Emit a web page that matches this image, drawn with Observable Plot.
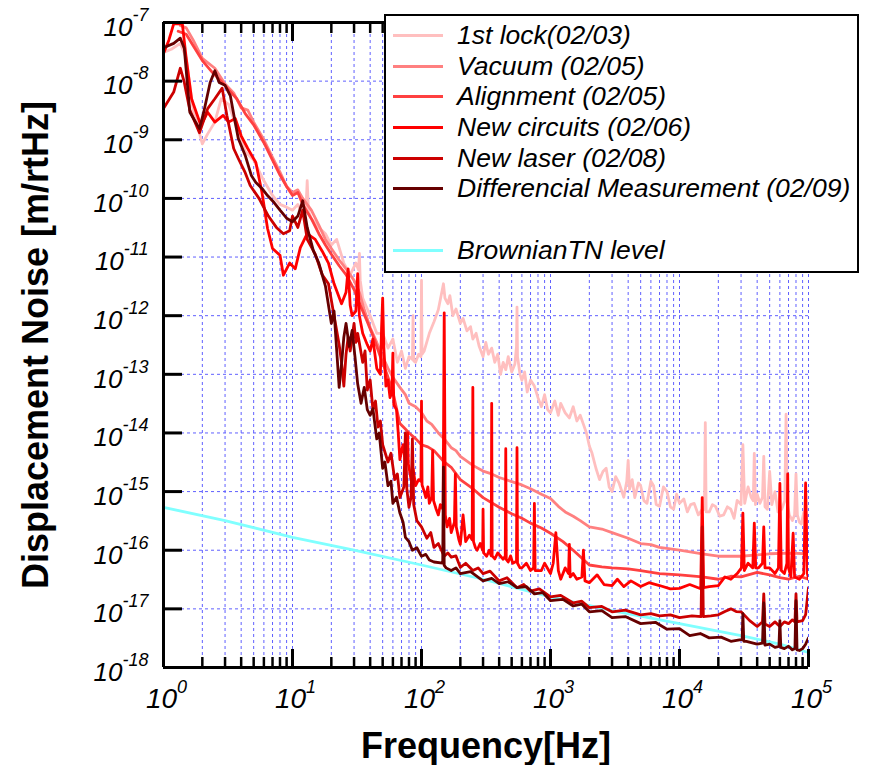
<!DOCTYPE html>
<html>
<head>
<meta charset="utf-8">
<script src="https://cdn.jsdelivr.net/npm/d3@7"></script>
<script src="https://cdn.jsdelivr.net/npm/@observablehq/plot@0.6"></script>
<style>
  html, body { margin: 0; padding: 0; background: #fff; }
  #wrap { position: relative; width: 870px; height: 765px; font-family: "Liberation Sans", Arial, sans-serif; }
  #wrap svg { position: absolute; left: 0; top: 0; }
  #legend { position: absolute; left: 384px; top: 14px; width: 475px; height: 259px; box-sizing: border-box;
            border: 2.5px solid #000; background: #fff; padding-top: 4px; }
  #legend .row { height: 30.7px; display: flex; align-items: center; }
  #legend .sw { display: inline-block; width: 50px; height: 3px; margin-left: 7px; }
  #legend .lab { margin-left: 14px; font-size: 26.5px; font-style: italic; color: #000; white-space: nowrap; }
</style>
</head>
<body>
<div id="wrap"></div>
<script>
// ---- Tick values ----
const xMajor = [1, 10, 100, 1e3, 1e4, 1e5];
const xMinor = [2,3,4,5,6,7,8,9, 20,30,40,50,60,70,80,90, 200,300,400,500,600,700,800,900,
                2e3,3e3,4e3,5e3,6e3,7e3,8e3,9e3, 2e4,3e4,4e4,5e4,6e4,7e4,8e4,9e4];
const yMajor = [1e-18,1e-17,1e-16,1e-15,1e-14,1e-13,1e-12,1e-11,1e-10,1e-9,1e-8,1e-7];

// ---- Series names / colours ----
const seriesNames = ["1st lock(02/03)", "Vacuum (02/05)", "Alignment (02/05)", "New circuits (02/06)",
                     "New laser (02/08)", "Differencial Measurement (02/09)", "", "BrownianTN level"];
const seriesColors = ["#ffbfbf", "#ff8080", "#ff4040", "#ff0000", "#cc0000", "#660000", null, "#80ffff"];

// ---- Data: [frequency Hz, displacement noise m/rtHz] ----
const lock1st = [[1,3.1e-8],[1.15,3.5e-8],[1.35,4.4e-8],[1.5,2.5e-8],[1.7,3.2e-9],[2.0,8.5e-10],[2.2,1.26e-9],[2.5,2.0e-9],[2.8,5.0e-9],[3.2,4.0e-9],[3.7,1.6e-9],[4.3,6.3e-10],[5,4.5e-10],[6,2.0e-10],[7,1.12e-10],[8,7.9e-11],[9,7.1e-11],[10,6.3e-11],[11,7.9e-11],[12,5.0e-11],[12.7,6e-11],[13,2.0e-10],[13.3,6e-11],[14,4.5e-11],[16,3.2e-11],[18,2.5e-11],[20,1.6e-11],[22,2.0e-11],[25,7.9e-12],[28,5.0e-12],[31,7.9e-12],[32.5,6e-12],[33,1.15e-11],[33.5,4e-12],[35,2.0e-12],[40,1.0e-12],[45,5.0e-13],[50,5.0e-13],[55,2.8e-13],[60,4.0e-13],[65,1.6e-13],[70,2.5e-13],[75,1.26e-13],[80,2.0e-13],[85,1.8e-13],[86,1.0e-12],[87,1.7e-13],[90,1.6e-13],[95,2.2e-13],[99,2e-13],[100,4.0e-12],[101,2.2e-13],[105,2.5e-13],[115,5.0e-13],[125,7.9e-13],[135,1.26e-12],[148,3.5e-12],[152,2.0e-12],[160,1.6e-12],[166,2.2e-12],[175,1.0e-12],[185,1.3e-12],[200,7.4e-13],[210,9e-13],[225,5.5e-13],[240,6.5e-13],[250,4.0e-13],[265,5e-13],[280,3e-13],[300,2.0e-13],[315,3.5e-13],[330,2.2e-13],[350,2.8e-13],[370,1.6e-13],[390,2.2e-13],[410,1.0e-13],[430,1.6e-13],[450,1.2e-13],[470,2.0e-13],[500,1.1e-13],[530,1.5e-13],[545,3e-13],[550,1.4e-12],[555,2e-13],[580,1.0e-13],[600,7.9e-14],[630,1.1e-13],[660,5.0e-14],[700,8e-14],[750,6.3e-14],[800,4e-14],[850,2.8e-14],[900,4.5e-14],[950,2.5e-14],[1000,2.2e-14],[1080,3.5e-14],[1150,2e-14],[1200,3.2e-14],[1300,2.2e-14],[1400,1.8e-14],[1500,2.8e-14],[1600,1.6e-14],[1700,2.0e-14],[1800,1.4e-14],[1900,1.0e-14],[2000,6e-15],[2100,4.5e-15],[2250,2.5e-15],[2400,1.6e-15],[2550,2.2e-15],[2700,2.5e-15],[2850,1.2e-15],[3000,1.0e-15],[3200,1.8e-15],[3400,1.4e-15],[3700,8e-16],[3900,1.5e-15],[4000,3.4e-15],[4100,1.1e-15],[4300,1.6e-15],[4500,7.9e-16],[4800,1.4e-15],[5000,1.26e-15],[5300,7e-16],[5600,6.3e-16],[6000,1.5e-15],[6300,1.26e-15],[6600,6e-16],[7000,5.6e-16],[7500,1.2e-15],[8000,1.0e-15],[8500,5.5e-16],[9000,5.0e-16],[9500,9e-16],[10000,6.3e-16],[10800,7.5e-16],[11500,4.5e-16],[12200,6e-16],[13000,6.3e-16],[14000,4e-16],[15000,5.0e-16],[15600,5e-16],[15850,1.5e-14],[16100,4.5e-16],[17000,4.5e-16],[18000,6e-16],[19000,5.6e-16],[20500,3.8e-16],[22000,4.0e-16],[23500,5.5e-16],[25000,5.0e-16],[26500,3.5e-16],[28000,7.1e-16],[30000,6e-16],[31000,6.3e-15],[32000,6.3e-16],[34000,1.2e-15],[36000,7.9e-16],[37300,7e-16],[38000,4.5e-15],[38800,6e-16],[40000,9e-16],[42000,6.3e-16],[44000,8e-16],[45000,4.0e-15],[46000,5.5e-16],[48000,5.0e-16],[50000,2.2e-15],[52000,6e-16],[55000,1.0e-15],[58000,4.5e-16],[62000,5.0e-16],[65500,7e-16],[67000,2.1e-14],[68500,6.3e-16],[71000,4e-16],[75000,3.2e-16],[78000,4e-16],[80000,2.0e-15],[82000,4e-16],[85000,3e-16],[88000,2.8e-16],[92000,4.5e-16],[96000,3e-16],[100000,4.0e-16]];

const vacuum = [[1.35,8.9e-8],[1.5,8.1e-8],[1.7,5.0e-8],[2.0,2.45e-8],[2.5,1.66e-8],[3.0,8.9e-9],[3.5,6.3e-9],[4,3.5e-9],[4.5,3.2e-9],[5,2.0e-9],[6,1.0e-9],[7,5.0e-10],[8,2.8e-10],[9,1.6e-10],[10,1.26e-10],[11,1.4e-10],[12,1.0e-10],[14,6.3e-11],[16,3.5e-11],[18,2.0e-11],[20,1.4e-11],[23,8.9e-12],[26,6.3e-12],[30,4.0e-12],[33,2.5e-12],[36,1.26e-12],[40,6.3e-13],[45,3.5e-13],[50,2.0e-13],[55,1.26e-13],[60,8.9e-14],[68,6.0e-14],[75,4.5e-14],[80,3.2e-14],[90,2.8e-14],[100,2.24e-14],[110,1.6e-14],[120,1.4e-14],[135,1.0e-14],[150,7.9e-15],[170,5.6e-15],[185,5.0e-15],[200,4.0e-15],[250,2.8e-15],[300,2.24e-15],[350,2.0e-15],[400,1.74e-15],[500,1.48e-15],[600,1.3e-15],[700,1.12e-15],[850,9e-16],[1000,7.6e-16],[1150,5.6e-16],[1300,4.5e-16],[1500,3.8e-16],[1700,3.2e-16],[2000,2.5e-16],[2500,2.3e-16],[3000,2.0e-16],[4000,1.6e-16],[5000,1.3e-16],[6000,1.25e-16],[7000,1.12e-16],[8500,1.05e-16],[10000,1.0e-16],[15000,8.7e-17],[20000,7.9e-17],[30000,7.9e-17],[40000,8.3e-17],[50000,8.7e-17],[70000,8.9e-17],[100000,8.7e-17]];

const alignment = [[1.3,7.1e-8],[1.5,6.3e-8],[1.7,4.0e-8],[2.0,2.24e-8],[2.4,1.4e-8],[2.8,1.0e-8],[3.2,7.1e-9],[3.7,5.0e-9],[4.3,2.8e-9],[5,1.8e-9],[6,8.9e-10],[7,4.5e-10],[8,2.5e-10],[9,1.6e-10],[10,1.12e-10],[11,1.26e-10],[12,7.9e-11],[14,4.5e-11],[16,2.5e-11],[18,1.6e-11],[20,1.12e-11],[23,7.1e-12],[26,5.0e-12],[30,2.8e-12],[34,1.4e-12],[38,7.9e-13],[43,4.0e-13],[48,2.0e-13],[54,1.0e-13],[60,5.0e-14],[68,1.45e-14],[74,1.2e-14],[80,1.0e-14],[90,8e-15],[100,6.3e-15],[112,5.8e-15],[125,5.0e-15],[150,3.2e-15],[170,2.6e-15],[200,1.6e-15],[250,1.12e-15],[300,7.9e-16],[400,5.4e-16],[500,4.2e-16],[600,3.5e-16],[700,2.9e-16],[850,2.4e-16],[1000,1.95e-16],[1250,1.4e-16],[1500,1.0e-16],[2000,5.6e-17],[2500,5.2e-17],[3000,5.0e-17],[4000,4.8e-17],[5000,4.5e-17],[7000,4.0e-17],[10000,3.8e-17],[15000,3.5e-17],[20000,3.2e-17],[25000,3.6e-17],[30000,3.5e-17],[40000,4.2e-17],[50000,3.8e-17],[60000,3.4e-17],[70000,3.2e-17],[85000,3.6e-17],[100000,3.2e-17]];

const newCircuits = [[1,2.95e-8],[1.1,5.0e-8],[1.2,9.5e-8],[1.4,9.5e-8],[1.5,2.45e-8],[1.65,5.0e-9],[1.95,1.74e-9],[2.2,2.95e-9],[2.5,2.0e-9],[2.9,2.6e-9],[3.2,2.0e-9],[3.6,2.3e-9],[4.0,1.17e-9],[4.5,7.1e-10],[5.2,4.1e-10],[5.8,1.26e-10],[6.4,3.1e-11],[7.0,1.4e-11],[8.0,1.07e-11],[8.5,4.9e-12],[9.5,7.9e-12],[10.5,6.3e-12],[11.5,1.45e-11],[13,2.5e-11],[15,2.0e-11],[17,1.26e-11],[19,7.9e-12],[21,3.5e-12],[24,1.6e-12],[26,2.5e-12],[27,6.3e-12],[28,1.5e-12],[29,1.0e-12],[31,1.2e-12],[32,5.2e-12],[33,1.0e-12],[35,5.0e-13],[38,3.2e-13],[40,2.5e-13],[42,4e-13],[45,1.26e-13],[48,1.0e-13],[49,6e-13],[50,2.0e-12],[51,3e-13],[53,6.3e-14],[55,8e-14],[57,4.0e-14],[59,5e-14],[60,2.3e-13],[61,3e-14],[64,2.5e-14],[66,1e-14],[68,3.5e-15],[70,5e-15],[72,6.3e-15],[75,3e-15],[77,4e-15],[78,1.0e-14],[79,3e-15],[83,1.6e-15],[86,2.5e-15],[90,1.26e-15],[95,1.6e-15],[99,1.5e-15],[100,3.5e-14],[101,1.3e-15],[105,1.0e-15],[108,7.9e-16],[112,1.2e-15],[115,6.3e-16],[120,8e-16],[122,5.0e-15],[124,7e-16],[130,5e-16],[135,4.0e-16],[140,6e-16],[147,5e-16],[150,1.12e-12],[153,4e-16],[158,2.5e-16],[165,3.5e-16],[170,2.0e-16],[180,3e-16],[183,2.0e-15],[186,2.5e-16],[195,1.5e-16],[200,1.26e-16],[210,4e-16],[220,1.4e-16],[235,1.8e-16],[247,1.5e-16],[250,6.0e-14],[253,1.4e-16],[262,1.1e-16],[270,1.0e-16],[285,1.3e-16],[298,1e-16],[300,5.0e-16],[303,9e-17],[320,7.9e-17],[335,1e-16],[347,8e-17],[350,3.2e-14],[353,8e-17],[370,7.1e-17],[390,9e-17],[410,7.9e-17],[430,7e-17],[446,8e-17],[450,5.4e-15],[454,7e-17],[470,6.3e-17],[490,8e-17],[510,6e-17],[545,6.5e-17],[550,5.6e-15],[555,6e-17],[580,5e-17],[600,5.0e-17],[650,6e-17],[700,4.5e-17],[740,5e-17],[750,6.3e-16],[760,4.5e-17],[850,4.5e-17],[900,6e-17],[1000,4.0e-17],[1050,6e-17],[1100,2.0e-16],[1150,4.5e-17],[1200,3.2e-17],[1300,5e-17],[1380,4e-17],[1400,1.26e-16],[1420,3.5e-17],[1500,4e-17],[1600,3.2e-17],[1750,3.5e-17],[1800,1.0e-16],[1850,3e-17],[2000,2.8e-17],[2300,3.8e-17],[2600,2.6e-17],[3000,2.5e-17],[3300,3.2e-17],[3700,2.4e-17],[4200,3e-17],[5000,2.4e-17],[5800,2.8e-17],[7000,2.5e-17],[8500,2.2e-17],[10000,2.24e-17],[12000,2.6e-17],[14600,2.2e-17],[15000,7.9e-16],[15400,2.3e-17],[17000,2.4e-17],[20000,2.5e-17],[22500,3.5e-17],[25000,3.2e-17],[28000,4e-17],[30200,5e-17],[31000,4.3e-16],[31800,4.5e-17],[34000,6e-17],[37000,5e-17],[38000,2.9e-16],[39000,5e-17],[41000,5.0e-17],[44000,6e-17],[45000,2.5e-16],[46000,5e-17],[50000,5.0e-17],[55000,4e-17],[58500,5e-17],[60000,1.38e-15],[61500,4.5e-17],[65000,4.0e-17],[68000,6e-17],[69000,2.0e-15],[70000,5e-17],[73000,3.5e-17],[76000,1.95e-16],[78000,3.5e-17],[85000,3.2e-17],[92000,4e-17],[95000,1.4e-15],[98000,4e-17],[100000,3.2e-17]];

const newLaser = [[1,3.4e-9],[1.2,6.5e-9],[1.35,1.66e-8],[1.45,9.5e-9],[1.6,3.2e-9],[1.9,1.32e-9],[2.2,3.4e-9],[2.5,5.0e-9],[2.85,7.6e-9],[3.1,2.6e-9],[3.5,7.1e-10],[3.8,4.8e-10],[4.3,2.75e-10],[4.7,1.66e-10],[5.5,1.0e-10],[6.5,5.0e-11],[7.5,3.2e-11],[8.5,2.5e-11],[9.5,2.8e-11],[10,5.0e-11],[11,3.2e-11],[12,6.3e-11],[13,2.0e-11],[15,1.12e-11],[17,5.0e-12],[19,3.5e-12],[21,1.0e-12],[23,3.2e-13],[24,1.6e-13],[25,6.3e-14],[26,2.2e-13],[27,4.3e-13],[28,2.5e-13],[30,7.4e-13],[31,3.5e-13],[32,5.0e-13],[35,1.6e-13],[36.5,2.5e-13],[38,5.4e-14],[40,8e-14],[42,2.5e-14],[44,3.5e-14],[46,1.26e-14],[48,1.6e-14],[50,6.3e-15],[55,3.2e-15],[58,4.5e-15],[62,1.6e-15],[65,2e-15],[68,7.9e-16],[73,1.2e-15],[75,1.0e-14],[77,1.1e-15],[80,5.4e-16],[83,8e-16],[85,7.9e-15],[87,6e-16],[92,3.2e-16],[100,2.5e-16],[110,1.6e-16],[118,2e-16],[125,1.12e-16],[135,1.3e-16],[150,7.9e-17],[160,9e-17],[170,7.6e-17],[185,8e-17],[200,5.1e-17],[220,6e-17],[250,4.5e-17],[275,5e-17],[300,4.0e-17],[340,4.4e-17],[400,3.0e-17],[460,3.4e-17],[550,2.3e-17],[620,2.6e-17],[700,2.0e-17],[820,2.2e-17],[1000,1.6e-17],[1200,1.7e-17],[1500,1.26e-17],[1750,1.35e-17],[2000,1.05e-17],[2500,1.1e-17],[3000,8.9e-18],[3800,9.5e-18],[5000,7.9e-18],[6000,8.3e-18],[7000,7.6e-18],[8500,7.9e-18],[10000,7.1e-18],[12500,7.6e-18],[14700,7.4e-18],[15000,2.5e-16],[15300,7.4e-18],[17500,7.6e-18],[20000,7.9e-18],[22500,9e-18],[25000,1.0e-17],[27500,9e-18],[30000,8.9e-18],[35000,6.3e-18],[40000,5.0e-18],[44000,6e-18],[45000,1.8e-17],[46000,5.5e-18],[50000,5.0e-18],[55000,6e-18],[60000,5.0e-18],[65000,6e-18],[70000,5.6e-18],[75000,6.5e-18],[78500,6e-18],[80000,1.8e-17],[81500,6e-18],[90000,6.3e-18],[95000,8e-18],[100000,2.3e-17]];

const differential = [[1,3.7e-8],[1.2,4.4e-8],[1.35,5.4e-8],[1.45,3.6e-8],[1.6,2.95e-9],[1.9,1.55e-9],[2.05,2.95e-9],[2.3,9.5e-9],[2.5,1.5e-8],[2.7,9.5e-9],[3.0,8.5e-9],[3.3,5.6e-9],[3.6,1.95e-9],[3.8,1.05e-9],[4.3,5.4e-10],[4.8,2.45e-10],[5.2,1.86e-10],[5.8,1.48e-10],[6.4,1.12e-10],[7.2,8.5e-11],[8,6.3e-11],[9,4.6e-11],[10,4.0e-11],[11,5.0e-11],[12,9.1e-11],[13,3.2e-11],[14.5,1.29e-11],[16,7.9e-12],[18,3.2e-12],[20,7.4e-13],[21,1.2e-12],[22,2.6e-13],[23,6.0e-14],[24,1.5e-13],[25,4.3e-13],[26,7.4e-13],[27.5,3e-13],[29,5.6e-13],[30.5,2e-13],[32,6.9e-14],[34,3.2e-14],[36,6.0e-14],[38,2.5e-14],[40,2.0e-14],[42,2.6e-14],[45,7.9e-15],[47,1.0e-14],[50,2.5e-15],[52,3.2e-15],[55,1.26e-15],[58,1.5e-15],[60,6.3e-16],[64,8e-16],[68,4.3e-16],[72,3e-16],[75,1.66e-16],[80,1.4e-16],[85,1.0e-16],[92,1.1e-16],[100,7.9e-17],[108,8.5e-17],[115,6.8e-17],[125,6.3e-17],[146,6e-17],[148,2.6e-15],[150,5.5e-17],[155,5e-17],[170,4.5e-17],[185,5e-17],[200,4.0e-17],[240,4.3e-17],[300,3.0e-17],[350,3.3e-17],[400,2.7e-17],[470,2.9e-17],[550,2.3e-17],[650,2.4e-17],[750,1.8e-17],[870,1.9e-17],[1000,1.38e-17],[1250,1.45e-17],[1500,1.12e-17],[1750,1.2e-17],[2000,8.9e-18],[2500,9.3e-18],[3000,7.1e-18],[3800,7.4e-18],[5000,5.6e-18],[6500,5.9e-18],[8000,4.5e-18],[10000,4.6e-18],[12000,3.5e-18],[14500,3.8e-18],[17000,3.2e-18],[21000,3.3e-18],[25000,2.8e-18],[30000,3.0e-18],[30600,3e-18],[31000,8.3e-18],[31500,2.8e-18],[33000,2.8e-18],[40000,2.5e-18],[44000,2.6e-18],[45000,1.26e-17],[46000,2.4e-18],[50000,2.5e-18],[55000,2.2e-18],[59000,2.3e-18],[60000,6.3e-18],[61000,2.2e-18],[65000,2.1e-18],[70000,2.3e-18],[75000,2.0e-18],[78500,2.1e-18],[80000,1.38e-17],[81500,2.0e-18],[85000,1.95e-18],[90000,2.1e-18],[95000,2.5e-18],[100000,3.2e-18]];

const brownian = [[1,5.4e-16],[3,3.2e-16],[10,1.66e-16],[30,1.0e-16],[100,5.6e-17],[300,3.2e-17],[1000,1.6e-17],[3000,9.3e-18],[10000,5.6e-18],[30000,3.5e-18],[60000,2.5e-18],[100000,1.8e-18]];

const seriesData = [lock1st, vacuum, alignment, newCircuits, newLaser, differential, null, brownian];

// ---- Chart ----
const fx = d => d[0], fy = d => d[1];
const gridStyle = {stroke: "#6060ff", strokeWidth: 1, strokeDasharray: "3,3"};
const expFmt = d => "10^" + Math.round(Math.log10(d));

const lineMarks = [];
lineMarks.push(Plot.line(brownian, {x: fx, y: fy, stroke: seriesColors[7], strokeWidth: 2.8, clip: true}));
for (let i = 0; i < 6; i++) {
  lineMarks.push(Plot.line(seriesData[i], {x: fx, y: fy, stroke: seriesColors[i], strokeWidth: 2.8, clip: true, strokeLinejoin: "round"}));
}

const chart = Plot.plot({
  width: 870,
  height: 765,
  marginLeft: 163,
  marginRight: 62,
  marginTop: 22,
  marginBottom: 98,
  style: {fontFamily: "'Liberation Sans', Arial, sans-serif", background: "white", color: "black", overflow: "visible"},
  x: {type: "log", domain: [1, 1e5]},
  y: {type: "log", domain: [1e-18, 1e-7]},
  marks: [
    Plot.ruleX(xMinor.concat(xMajor.slice(1)), gridStyle),
    Plot.ruleY(yMajor.slice(1, -1), gridStyle),
    ...lineMarks,
    Plot.ruleX([1], {stroke: "black", strokeWidth: 3}),
    Plot.ruleY([1e-18], {stroke: "black", strokeWidth: 3}),
    Plot.ruleY([1e-7], {stroke: "black", strokeWidth: 3}),
    Plot.axisX(xMinor, {anchor: "bottom", tickSize: -10, strokeWidth: 2.5, fill: "none", label: null}),
    Plot.axisX(xMajor, {anchor: "bottom", tickSize: -18, strokeWidth: 3, fill: "none", label: null}),
    Plot.axisX(xMinor, {anchor: "top", tickSize: -10, strokeWidth: 2.5, fill: "none", label: null}),
    Plot.axisX(xMajor, {anchor: "top", tickSize: -18, strokeWidth: 3, fill: "none", label: null}),
    Plot.axisY(yMajor, {anchor: "left", tickSize: -19, strokeWidth: 3, fill: "none", label: null}),
    Plot.axisX(xMajor, {anchor: "bottom", tickSize: 0, tickPadding: 21, fontSize: 28, fontStyle: "italic",
                        tickFormat: expFmt, label: null, dx: 3}),
    Plot.axisY(yMajor, {anchor: "left", tickSize: 0, tickPadding: 15, fontSize: 26, fontStyle: "italic",
                        tickFormat: expFmt, label: null, dy: 5}),
    Plot.text(["Frequency[Hz]"], {frameAnchor: "bottom", lineAnchor: "middle", dy: 79, fontSize: 36, fontWeight: "bold", fill: "black"}),
    Plot.text(["Displacement Noise [m/rtHz]"], {frameAnchor: "left", textAnchor: "middle", lineAnchor: "middle", dx: -127, rotate: -90, fontSize: 36, fontWeight: "bold", fill: "black"})
  ]
});

function superscript(svg, axis, expSize, shift) {
  d3.select(svg).selectAll(`g[aria-label="${axis}-axis tick label"] text`).each(function() {
    const s = this.textContent;
    const i = s.indexOf("^");
    if (i < 0) return;
    const el = d3.select(this);
    el.text(null);
    el.append("tspan").text(s.slice(0, i));
    el.append("tspan").attr("dy", -shift).attr("font-size", expSize).text(s.slice(i + 1));
  });
}
superscript(chart, "x", 18, 15);
superscript(chart, "y", 18, 15);

const wrap = document.getElementById("wrap");
wrap.appendChild(chart);

const legend = document.createElement("div");
legend.id = "legend";
seriesNames.forEach((name, i) => {
  const row = document.createElement("div");
  row.className = "row";
  if (seriesColors[i]) {
    const sw = document.createElement("span");
    sw.className = "sw";
    sw.style.background = seriesColors[i];
    const lab = document.createElement("span");
    lab.className = "lab";
    lab.textContent = name;
    row.appendChild(sw);
    row.appendChild(lab);
  }
  legend.appendChild(row);
});
wrap.appendChild(legend);
</script>
</body>
</html>
